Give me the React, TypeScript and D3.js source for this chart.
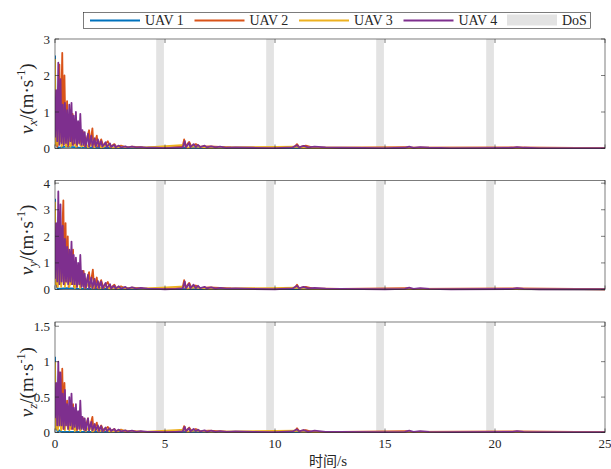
import React, { useRef, useEffect } from "react";
import * as d3 from "d3";

const uavNames = ["UAV 1", "UAV 2", "UAV 3", "UAV 4"];
const uavColors = ["#0072BD", "#D95319", "#EDB120", "#7E2F8E"];
const dosWindows = [[4.6, 4.95], [9.6, 9.95], [14.6, 14.95], [19.6, 19.95]];
const xTicks = [0, 5, 10, 15, 20, 25];

// samples as flat [t, v, t, v, ...]
const vx1 = [0, 2.55, 0.03, 0.2, 0.08, 0.3, 0.12, 0.02, 0.5, 0.05, 1, 0.03, 2, 0.02, 25, 0.01];
const vx2 = [0, 0.1, 0.05, 0.5, 0.1, 0.05, 0.2, 2.3, 0.25, 0.2, 0.33, 2.62, 0.38, 0.1, 0.43, 2.0, 0.48, 0.2, 0.55, 1.3, 0.6, 0.05, 0.7, 1.05, 0.75, 0.1, 0.8, 0.95, 0.85, 0.1, 0.95, 0.8, 1.0, 0.05, 1.1, 0.7, 1.15, 0.1, 1.3, 0.45, 1.35, 0.05, 1.55, 0.5, 1.6, 0.1, 1.7, 0.55, 1.75, 0.05, 1.9, 0.35, 1.95, 0.05, 2.1, 0.25, 2.2, 0.05, 2.4, 0.2, 2.5, 0.04, 2.7, 0.12, 2.8, 0.03, 3.0, 0.08, 3.2, 0.03, 3.5, 0.05, 4, 0.03, 5, 0.02, 5.8, 0.05, 5.87, 0.25, 5.93, 0.05, 6.1, 0.18, 6.2, 0.05, 6.4, 0.12, 6.6, 0.05, 7, 0.06, 8, 0.03, 10, 0.02, 10.9, 0.05, 11.0, 0.12, 11.1, 0.04, 11.4, 0.08, 11.7, 0.03, 13, 0.02, 16, 0.04, 16.2, 0.02, 21, 0.03, 25, 0.01];
const vx3 = [0, 2.45, 0.03, 0.1, 0.1, 0.6, 0.15, 0.1, 0.25, 0.45, 0.3, 0.05, 0.4, 0.35, 0.5, 0.05, 0.6, 0.3, 0.7, 0.05, 0.85, 0.25, 0.95, 0.05, 1.1, 0.2, 1.2, 0.05, 1.4, 0.15, 1.5, 0.03, 1.7, 0.12, 1.8, 0.03, 2.0, 0.15, 2.1, 0.02, 2.4, 0.1, 2.6, 0.02, 3, 0.05, 4, 0.02, 5.9, 0.1, 6.0, 0.02, 6.3, 0.06, 7, 0.02, 11, 0.05, 11.2, 0.02, 25, 0.01];
const vx4 = [0, 0.3, 0.05, 1.6, 0.1, 0.2, 0.15, 2.35, 0.2, 0.1, 0.25, 1.9, 0.3, 0.15, 0.35, 1.2, 0.4, 0.1, 0.45, 1.25, 0.5, 0.15, 0.55, 1.05, 0.6, 0.1, 0.65, 1.2, 0.7, 0.2, 0.75, 1.25, 0.8, 0.1, 0.85, 0.9, 0.9, 0.15, 0.95, 1.0, 1.0, 0.1, 1.05, 0.75, 1.1, 0.15, 1.15, 0.95, 1.2, 0.1, 1.25, 0.5, 1.3, 0.1, 1.35, 0.45, 1.4, 0.05, 1.5, 0.4, 1.55, 0.05, 1.65, 0.35, 1.7, 0.05, 1.8, 0.28, 1.85, 0.05, 1.95, 0.25, 2.0, 0.05, 2.1, 0.2, 2.15, 0.05, 2.3, 0.17, 2.35, 0.04, 2.5, 0.14, 2.55, 0.04, 2.7, 0.1, 2.75, 0.03, 2.9, 0.08, 3.0, 0.03, 3.2, 0.06, 3.3, 0.03, 3.5, 0.05, 3.7, 0.03, 3.9, 0.04, 4.2, 0.02, 4.6, 0.02, 5.0, 0.01, 5.5, 0.02, 5.8, 0.03, 5.9, 0.2, 5.95, 0.03, 6.1, 0.15, 6.15, 0.03, 6.3, 0.12, 6.4, 0.04, 6.5, 0.1, 6.6, 0.04, 6.8, 0.08, 6.9, 0.03, 7.1, 0.06, 7.3, 0.03, 7.5, 0.05, 7.8, 0.02, 8.2, 0.03, 9, 0.02, 10, 0.01, 10.8, 0.03, 11.0, 0.09, 11.1, 0.03, 11.3, 0.07, 11.5, 0.03, 11.8, 0.05, 12.3, 0.03, 13, 0.02, 15, 0.01, 15.9, 0.02, 16.1, 0.05, 16.3, 0.02, 16.6, 0.04, 17, 0.02, 18, 0.01, 20.8, 0.02, 21, 0.04, 21.3, 0.02, 22, 0.01, 25, 0.01];

const vy1 = [0, 3.41, 0.03, 0.2, 0.08, 0.15, 0.12, 0.02, 0.5, 0.05, 1, 0.03, 2, 0.02, 25, 0.01];
const vy2 = [0, 0.2, 0.05, 0.8, 0.1, 0.1, 0.2, 2.9, 0.25, 0.3, 0.38, 3.35, 0.42, 0.2, 0.48, 2.5, 0.52, 0.3, 0.58, 2.0, 0.62, 0.1, 0.7, 1.4, 0.75, 0.2, 0.82, 1.5, 0.86, 0.1, 0.95, 1.1, 1.0, 0.1, 1.1, 0.95, 1.15, 0.1, 1.3, 0.7, 1.35, 0.05, 1.55, 0.65, 1.6, 0.1, 1.72, 0.75, 1.78, 0.05, 1.9, 0.45, 1.95, 0.05, 2.1, 0.35, 2.2, 0.05, 2.4, 0.28, 2.5, 0.04, 2.7, 0.18, 2.8, 0.03, 3.0, 0.12, 3.2, 0.03, 3.5, 0.07, 4, 0.04, 5, 0.02, 5.8, 0.06, 5.87, 0.35, 5.93, 0.06, 6.1, 0.25, 6.2, 0.06, 6.4, 0.15, 6.6, 0.05, 7, 0.08, 8, 0.04, 10, 0.02, 10.9, 0.06, 11.0, 0.18, 11.1, 0.05, 11.4, 0.1, 11.7, 0.04, 13, 0.02, 16, 0.05, 16.2, 0.02, 21, 0.04, 25, 0.01];
const vy3 = [0, 3.3, 0.03, 0.2, 0.08, 1.0, 0.13, 0.1, 0.2, 0.9, 0.28, 0.1, 0.35, 0.7, 0.45, 0.1, 0.55, 0.6, 0.65, 0.1, 0.8, 0.5, 0.9, 0.05, 1.05, 0.4, 1.15, 0.05, 1.3, 0.3, 1.4, 0.05, 1.6, 0.35, 1.7, 0.03, 1.9, 0.2, 2.0, 0.03, 2.3, 0.15, 2.5, 0.02, 3, 0.07, 4, 0.03, 5.9, 0.12, 6.0, 0.03, 6.3, 0.08, 7, 0.02, 11, 0.07, 11.2, 0.02, 25, 0.01];
const vy4 = [0, 0.4, 0.05, 2.5, 0.1, 0.3, 0.15, 3.69, 0.2, 0.2, 0.25, 3.2, 0.3, 0.3, 0.35, 2.4, 0.4, 0.2, 0.45, 1.9, 0.5, 0.3, 0.55, 1.6, 0.6, 0.2, 0.65, 1.5, 0.7, 0.3, 0.75, 1.8, 0.8, 0.2, 0.85, 1.3, 0.9, 0.2, 0.95, 1.2, 1.0, 0.1, 1.05, 1.0, 1.1, 0.2, 1.15, 1.3, 1.2, 0.1, 1.25, 0.7, 1.3, 0.1, 1.35, 0.6, 1.4, 0.05, 1.5, 0.55, 1.55, 0.05, 1.65, 0.45, 1.7, 0.05, 1.8, 0.4, 1.85, 0.05, 1.95, 0.32, 2.0, 0.05, 2.1, 0.3, 2.15, 0.04, 2.3, 0.25, 2.35, 0.04, 2.5, 0.2, 2.55, 0.04, 2.7, 0.14, 2.75, 0.03, 2.9, 0.12, 3.0, 0.03, 3.2, 0.1, 3.3, 0.03, 3.5, 0.08, 3.7, 0.03, 3.9, 0.06, 4.2, 0.03, 4.6, 0.02, 5.0, 0.01, 5.5, 0.02, 5.8, 0.04, 5.9, 0.3, 5.95, 0.04, 6.1, 0.22, 6.15, 0.04, 6.3, 0.18, 6.4, 0.05, 6.5, 0.14, 6.6, 0.05, 6.8, 0.1, 6.9, 0.04, 7.1, 0.08, 7.3, 0.03, 7.5, 0.06, 7.8, 0.03, 8.2, 0.04, 9, 0.02, 10, 0.01, 10.8, 0.04, 11.0, 0.14, 11.1, 0.04, 11.3, 0.1, 11.5, 0.04, 11.8, 0.06, 12.3, 0.03, 13, 0.02, 15, 0.01, 15.9, 0.02, 16.1, 0.07, 16.3, 0.02, 16.6, 0.05, 17, 0.02, 18, 0.01, 20.8, 0.02, 21, 0.05, 21.3, 0.02, 22, 0.01, 25, 0.01];

const vz1 = [0, 1.07, 0.03, 0.1, 0.08, 0.05, 0.12, 0.01, 0.2, 0.03, 0.3, 0.01, 1, 0.01, 25, 0.005];
const vz2 = [0, 0.05, 0.05, 0.3, 0.1, 0.05, 0.2, 0.85, 0.25, 0.1, 0.33, 0.9, 0.38, 0.05, 0.43, 0.7, 0.48, 0.1, 0.55, 0.45, 0.6, 0.05, 0.7, 0.35, 0.75, 0.05, 0.82, 0.4, 0.86, 0.05, 0.95, 0.3, 1.0, 0.03, 1.1, 0.25, 1.15, 0.05, 1.3, 0.2, 1.35, 0.03, 1.5, 0.2, 1.55, 0.03, 1.7, 0.22, 1.75, 0.02, 1.9, 0.14, 1.95, 0.02, 2.1, 0.1, 2.2, 0.02, 2.4, 0.08, 2.5, 0.02, 2.7, 0.05, 2.8, 0.01, 3.0, 0.04, 3.2, 0.01, 3.5, 0.02, 4, 0.01, 5, 0.008, 5.8, 0.02, 5.87, 0.09, 5.93, 0.02, 6.1, 0.07, 6.2, 0.02, 6.4, 0.05, 6.6, 0.02, 7, 0.025, 8, 0.01, 10, 0.008, 10.9, 0.02, 11.0, 0.06, 11.1, 0.02, 11.4, 0.035, 11.7, 0.01, 13, 0.008, 16, 0.02, 16.2, 0.008, 21, 0.015, 25, 0.005];
const vz3 = [0, 1.0, 0.03, 0.05, 0.08, 0.3, 0.13, 0.03, 0.2, 0.25, 0.28, 0.03, 0.35, 0.2, 0.45, 0.03, 0.55, 0.3, 0.65, 0.03, 0.8, 0.15, 0.9, 0.02, 1.05, 0.2, 1.15, 0.02, 1.3, 0.12, 1.4, 0.02, 1.6, 0.1, 1.7, 0.01, 1.9, 0.08, 2.0, 0.01, 2.3, 0.06, 2.5, 0.01, 3, 0.03, 4, 0.01, 5.9, 0.04, 6.0, 0.01, 6.3, 0.03, 7, 0.01, 11, 0.025, 11.2, 0.01, 25, 0.005];
const vz4 = [0, 0.2, 0.05, 0.7, 0.1, 0.1, 0.15, 1.0, 0.2, 0.1, 0.25, 0.85, 0.3, 0.1, 0.35, 0.55, 0.4, 0.05, 0.45, 0.6, 0.5, 0.1, 0.55, 0.4, 0.6, 0.05, 0.65, 0.5, 0.7, 0.1, 0.75, 0.55, 0.8, 0.05, 0.85, 0.35, 0.9, 0.08, 0.95, 0.4, 1.0, 0.05, 1.05, 0.3, 1.1, 0.05, 1.15, 0.45, 1.2, 0.05, 1.25, 0.22, 1.3, 0.04, 1.35, 0.2, 1.4, 0.03, 1.5, 0.2, 1.55, 0.03, 1.65, 0.15, 1.7, 0.03, 1.8, 0.12, 1.85, 0.03, 1.95, 0.1, 2.0, 0.02, 2.1, 0.09, 2.15, 0.02, 2.3, 0.07, 2.35, 0.02, 2.5, 0.06, 2.55, 0.02, 2.7, 0.05, 2.75, 0.015, 2.9, 0.04, 3.0, 0.015, 3.2, 0.03, 3.3, 0.015, 3.5, 0.025, 3.7, 0.01, 3.9, 0.02, 4.2, 0.01, 4.6, 0.01, 5.0, 0.005, 5.5, 0.01, 5.8, 0.015, 5.9, 0.08, 5.95, 0.015, 6.1, 0.06, 6.15, 0.015, 6.3, 0.05, 6.4, 0.02, 6.5, 0.04, 6.6, 0.015, 6.8, 0.03, 6.9, 0.01, 7.1, 0.025, 7.3, 0.01, 7.5, 0.02, 7.8, 0.01, 8.2, 0.015, 9, 0.01, 10, 0.005, 10.8, 0.015, 11.0, 0.045, 11.1, 0.015, 11.3, 0.035, 11.5, 0.01, 11.8, 0.025, 12.3, 0.01, 13, 0.008, 15, 0.005, 15.9, 0.01, 16.1, 0.025, 16.3, 0.01, 16.6, 0.02, 17, 0.01, 18, 0.005, 20.8, 0.01, 21, 0.02, 21.3, 0.01, 22, 0.005, 25, 0.005];

const panels = [
  { sub: "x", yMax: 3, yTicks: [0, 1, 2, 3], series: [vx1, vx2, vx3, vx4], top: 39, bottom: 148.5 },
  { sub: "y", yMax: 4.1, yTicks: [0, 1, 2, 3, 4], series: [vy1, vy2, vy3, vy4], top: 180.5, bottom: 289.5 },
  { sub: "z", yMax: 1.56, yTicks: [0, 0.5, 1, 1.5], series: [vz1, vz2, vz3, vz4], top: 322, bottom: 432.5 },
];

const W = 611;
const H = 469;
const left = 55;
const right = 605;
const serif = "'Liberation Serif', 'Times New Roman', serif";
const axisColor = "#262626";

const toPoints = (flat: number[]) => {
  const pts: [number, number][] = [];
  for (let i = 0; i < flat.length; i += 2) pts.push([flat[i], flat[i + 1]]);
  return pts;
};

const App = () => {
  const ref = useRef<SVGSVGElement>(null);

  useEffect(() => {
    if (!ref.current) return;
    const svg = d3.select(ref.current);
    svg.selectAll("*").remove();

    const x = d3.scaleLinear().domain([0, 25]).range([left, right]);

    panels.forEach((p, pi) => {
      const y = d3.scaleLinear().domain([0, p.yMax]).range([p.bottom, p.top]);
      const g = svg.append("g");

      const clipId = `clip-${pi}`;
      svg
        .append("clipPath")
        .attr("id", clipId)
        .append("rect")
        .attr("x", left)
        .attr("y", p.top - 2)
        .attr("width", right - left)
        .attr("height", p.bottom - p.top + 4);

      // DoS windows
      g.selectAll(".dos")
        .data(dosWindows)
        .enter()
        .append("rect")
        .attr("x", (d) => x(d[0]))
        .attr("width", (d) => x(d[1]) - x(d[0]))
        .attr("y", p.top)
        .attr("height", p.bottom - p.top)
        .attr("fill", "#e3e3e3");

      const line = d3
        .line<[number, number]>()
        .x((d) => x(d[0]))
        .y((d) => y(d[1]));

      const lines = g.append("g").attr("clip-path", `url(#${clipId})`);
      p.series.forEach((s, si) => {
        lines
          .append("path")
          .attr("d", line(toPoints(s)))
          .attr("fill", "none")
          .attr("stroke", uavColors[si])
          .attr("stroke-width", 1.8)
          .attr("stroke-linejoin", "round");
      });

      // frame
      g.append("rect")
        .attr("x", left)
        .attr("y", p.top)
        .attr("width", right - left)
        .attr("height", p.bottom - p.top)
        .attr("fill", "none")
        .attr("stroke", axisColor)
        .attr("stroke-width", 0.6);

      const tl = 4;
      xTicks.forEach((t) => {
        g.append("line")
          .attr("x1", x(t)).attr("x2", x(t))
          .attr("y1", p.bottom).attr("y2", p.bottom - tl)
          .attr("stroke", axisColor).attr("stroke-width", 0.6);
        g.append("line")
          .attr("x1", x(t)).attr("x2", x(t))
          .attr("y1", p.top).attr("y2", p.top + tl)
          .attr("stroke", axisColor).attr("stroke-width", 0.6);
      });
      p.yTicks.forEach((t) => {
        g.append("line")
          .attr("x1", left).attr("x2", left + tl)
          .attr("y1", y(t)).attr("y2", y(t))
          .attr("stroke", axisColor).attr("stroke-width", 0.6);
        g.append("line")
          .attr("x1", right).attr("x2", right - tl)
          .attr("y1", y(t)).attr("y2", y(t))
          .attr("stroke", axisColor).attr("stroke-width", 0.6);
        g.append("text")
          .attr("x", left - 5)
          .attr("y", y(t))
          .attr("dy", "0.35em")
          .attr("text-anchor", "end")
          .attr("font-family", serif)
          .attr("font-size", 13)
          .attr("fill", axisColor)
          .text(String(t));
      });

      if (pi === panels.length - 1) {
        xTicks.forEach((t) => {
          g.append("text")
            .attr("x", x(t))
            .attr("y", p.bottom + 15)
            .attr("text-anchor", "middle")
            .attr("font-family", serif)
            .attr("font-size", 13)
            .attr("fill", axisColor)
            .text(String(t));
        });
      }

      // y label
      const cy = (p.top + p.bottom) / 2 + 5;
      const lab = g
        .append("text")
        .attr("transform", `translate(33,${cy}) rotate(-90)`)
        .attr("text-anchor", "middle")
        .attr("font-family", serif)
        .attr("font-size", 19)
        .attr("fill", axisColor);
      lab.append("tspan").attr("font-style", "italic").text("v");
      lab.append("tspan").attr("font-style", "italic").attr("font-size", 13).attr("dy", 4).text(p.sub);
      lab.append("tspan").attr("dy", -4).text("/(m·s");
      lab.append("tspan").attr("font-size", 12).attr("dy", -8).text("-1");
      lab.append("tspan").attr("dy", 8).text(")");
    });

    // x label
    const xl = svg
      .append("text")
      .attr("x", 328)
      .attr("y", 466)
      .attr("text-anchor", "middle")
      .attr("font-size", 14)
      .attr("fill", axisColor);
    xl.append("tspan").attr("font-family", "'Noto Sans CJK SC', sans-serif").text("时间");
    xl.append("tspan").attr("font-family", serif).attr("font-size", 15).text("/s");

    // legend
    const lg = svg.append("g");
    lg.append("rect")
      .attr("x", 83.5)
      .attr("y", 12.5)
      .attr("width", 507)
      .attr("height", 16)
      .attr("fill", "white")
      .attr("stroke", axisColor)
      .attr("stroke-width", 0.6);
    const ly = 20.5;
    uavNames.forEach((name, i) => {
      const x0 = 90 + i * 104.5;
      lg.append("line")
        .attr("x1", x0).attr("x2", x0 + 50)
        .attr("y1", ly).attr("y2", ly)
        .attr("stroke", uavColors[i]).attr("stroke-width", 2);
      lg.append("text")
        .attr("x", x0 + 55)
        .attr("y", ly)
        .attr("dy", "0.35em")
        .attr("font-family", serif)
        .attr("font-size", 14)
        .attr("fill", axisColor)
        .text(name);
    });
    lg.append("rect")
      .attr("x", 507).attr("y", 14.5)
      .attr("width", 50).attr("height", 11)
      .attr("fill", "#e3e3e3");
    lg.append("text")
      .attr("x", 562)
      .attr("y", ly)
      .attr("dy", "0.35em")
      .attr("font-family", serif)
      .attr("font-size", 14)
      .attr("fill", axisColor)
      .text("DoS");
  }, []);

  return (
    <svg
      ref={ref}
      width={W}
      height={H}
      style={{ position: "absolute", left: 0, top: 0, background: "white" }}
    />
  );
};

export default App;
